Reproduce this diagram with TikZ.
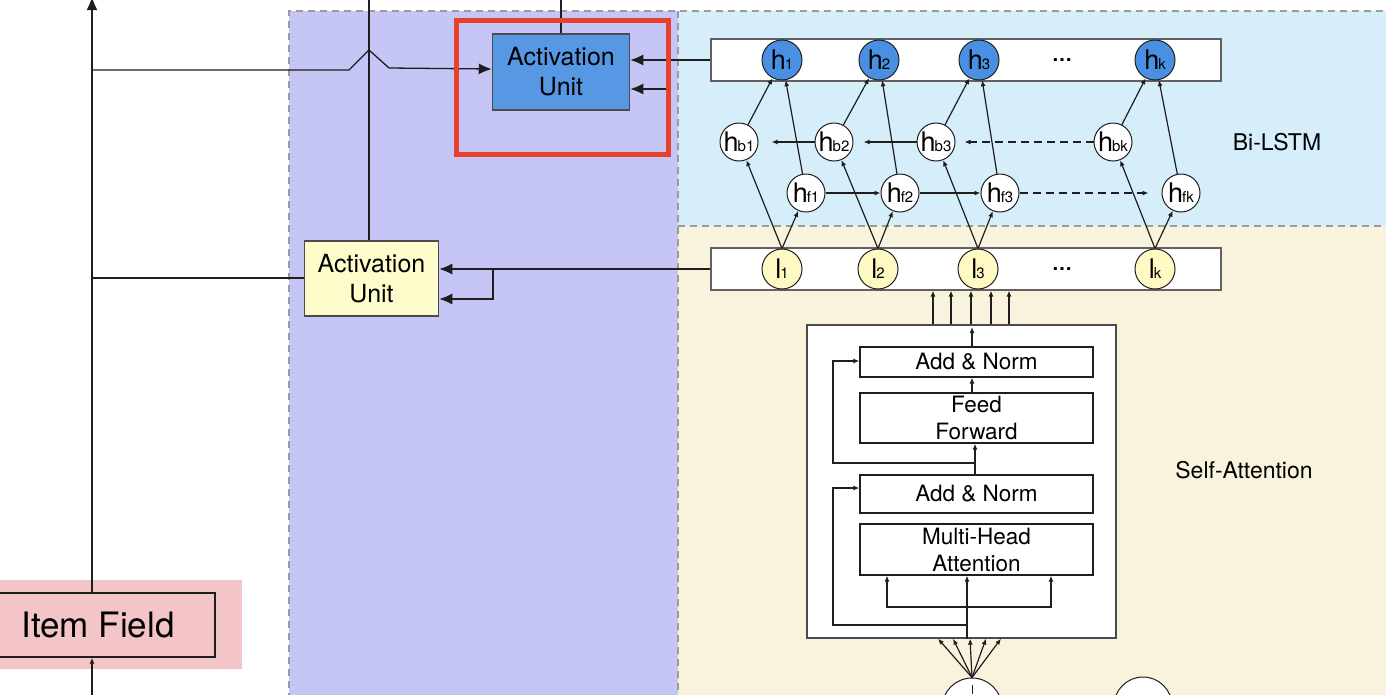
\documentclass[tikz,border=0pt]{standalone}
\usepackage{fontspec}
\setmainfont{TeX Gyre Heros}
\usetikzlibrary{arrows.meta,calc}
\definecolor{purplebg}{RGB}{197,197,246}
\definecolor{bluebg}{RGB}{214,237,250}
\definecolor{beigebg}{RGB}{249,243,221}
\definecolor{pinkbg}{RGB}{244,197,199}
\definecolor{hblue}{RGB}{74,144,226}
\definecolor{aublue}{RGB}{86,152,228}
\definecolor{auyellow}{RGB}{255,252,204}
\definecolor{lyellow}{RGB}{255,249,196}
\definecolor{redbox}{RGB}{232,64,42}
\definecolor{dashgray}{RGB}{155,155,155}
\definecolor{ink}{RGB}{30,30,30}
\newcommand\clab[2]{{\fontsize{27}{27}\selectfont #1}\kern-1pt{\fontsize{15}{15}\selectfont #2}}
\tikzset{
  conn/.style={draw=ink, line width=1.3pt},
  bigarrow/.style={conn, -{Latex[length=13pt,width=11pt]}},
  smarrow/.style={conn, line width=1.2pt, -{Latex[length=6pt,width=5pt]}},
  dashline/.style={dash pattern=on 8pt off 5pt},
  region/.style={draw=dashgray, line width=1.4pt, dash pattern=on 7pt off 5pt},
  aubox/.style={draw=ink!80, line width=1.5pt, minimum width=135pt, minimum height=75pt,
     align=center, font=\fontsize{25}{30}\selectfont, inner sep=0pt},
  rowbox/.style={draw=ink!70, line width=1.3pt, fill=white, minimum width=510pt, minimum height=42pt, inner sep=0pt},
  hcirc/.style={circle, draw=ink, line width=1pt, fill=hblue, minimum size=40pt, inner sep=0pt},
  lcirc/.style={circle, draw=ink, line width=1pt, fill=lyellow, minimum size=40pt, inner sep=0pt},
  mcirc/.style={circle, draw=ink, line width=1pt, fill=white, minimum size=38pt, inner sep=0pt},
  sabox/.style={draw=ink, line width=1.3pt, fill=white, minimum width=233pt, inner sep=0pt,
     align=center, font=\fontsize{22.5}{27}\selectfont},
  sidelabel/.style={font=\fontsize{23}{26}\selectfont},
}
\begin{document}
\begin{tikzpicture}[x=1pt,y=-1pt]
\useasboundingbox (0,0) rectangle (1386,694);
\clip (0,0) rectangle (1386,694);
% backgrounds
\fill[purplebg] (289,11) rectangle (678,700);
\fill[bluebg] (678,11) rectangle (1390,226);
\fill[beigebg] (678,226) rectangle (1390,700);
\fill[pinkbg] (0,580) rectangle (242,669);
\draw[region] (289,700) -- (289,11) -- (1390,11);
\draw[region] (678,11) -- (678,700);
\draw[region] (678,226) -- (1390,226);

% Item field
\node[draw=ink, line width=1.3pt, minimum width=225pt, minimum height=64pt, inner sep=0pt,
      font=\fontsize{35}{40}\selectfont] (item) at (102.5,625) {\kern-9pt Item Field};
\coordinate (vl) at (92,0);
\coordinate (bot) at (92,700);
\draw[bigarrow] (item.north -| vl) -- (92,-3);
\draw[smarrow, line width=1.3pt] (bot) -- (item.south -| vl);

% activation units
\node[aubox, fill=aublue, minimum width=137pt, minimum height=76pt] (au2) at (561,72) {Activation\\Unit};
\node[aubox, fill=auyellow, minimum width=134pt, minimum height=75pt] (au1) at (371.5,278.5) {Activation\\Unit};

% rows
\node[rowbox] (hrow) at (966,60) {};
\node[rowbox] (lrow) at (966,269) {};

\node[hcirc] (h1) at (782,60) {\clab{h}{1}};
\node[hcirc] (h2) at (879,60) {\clab{h}{2}};
\node[hcirc] (h3) at (979,60) {\clab{h}{3}};
\node[hcirc] (hk) at (1155,60) {\clab{h}{k}};
\node[font=\fontsize{20}{20}\selectfont] (hdots) at (1062,60) {\textbf{\ldots}};

\node[lcirc] (l1) at (782,269) {\clab{l}{1}};
\node[lcirc] (l2) at (878,269) {\clab{l}{2}};
\node[lcirc] (l3) at (978,269) {\clab{l}{3}};
\node[lcirc] (lk) at (1155,269) {\clab{l}{k}};
\node[font=\fontsize{20}{20}\selectfont] (ldots) at (1062,269) {\textbf{\ldots}};

\node[mcirc] (hb1) at (739,142) {\clab{h}{b1}};
\node[mcirc] (hb2) at (834,142) {\clab{h}{b2}};
\node[mcirc] (hb3) at (936,142) {\clab{h}{b3}};
\node[mcirc] (hbk) at (1113,142) {\clab{h}{bk}};
\node[mcirc] (hf1) at (806,193) {\clab{h}{f1}};
\node[mcirc] (hf2) at (900,193) {\clab{h}{f2}};
\node[mcirc] (hf3) at (1000,193) {\clab{h}{f3}};
\node[mcirc] (hfk) at (1181,193) {\clab{h}{fk}};

% Bi-LSTM connections
\foreach \i in {1,2,3,k}{
  \draw[smarrow] (l\i.north) -- (hb\i);
  \draw[smarrow] (l\i.north) -- (hf\i);
  \draw[smarrow] (hb\i) -- (h\i);
  \draw[smarrow] (hf\i) -- (h\i);
}
\draw[smarrow, shorten >=13pt] (hb2) -- (hb1);
\draw[smarrow, shorten >=10pt] (hb3) -- (hb2);
\draw[smarrow, dashline, shorten >=9pt] (hbk) -- (hb3);
\draw[smarrow] (hf1) -- (hf2);
\draw[smarrow] (hf2) -- (hf3);
\draw[smarrow, dashline, shorten >=13pt] (hf3) -- (hfk);

% arrows into activation units
\draw[bigarrow] (hrow.west |- 0,60) -- (au2.east |- 0,60);
\coordinate (br2) at (667,60);
\draw[bigarrow] (br2) -- (667,89) -- (au2.east |- 0,89);
\draw[bigarrow] (lrow.west |- 0,269) -- (au1.east |- 0,269);
\coordinate (br1) at (493,269);
\draw[bigarrow] (br1) -- (493,299) -- (au1.east |- 0,299);

% left connections
\coordinate (hopA) at (349,70);
\coordinate (hopT) at (369,50);
\coordinate (hopB) at (389,68);
\draw[bigarrow] (92,70) -- (hopA) -- (hopT) -- (hopB) -- (au2.west |- 0,69);
\draw[conn] (92,278) -- (au1.west |- 0,278);
\draw[conn] (au1.north -| 369,0) -- (369,-2);
\draw[conn] (au2.north) -- (561,-2);

% red highlight
\draw[redbox, line width=5pt] (456.5,20.5) rectangle (668.5,154.5);

% Self-attention block
\node[draw=ink!80, line width=1.3pt, fill=white, minimum width=309pt, minimum height=313pt, inner sep=0pt] (sa) at (961.5,481.5) {};
\node[sabox, minimum height=30pt] (an2) at (976.5,362) {Add \& Norm};
\node[sabox, minimum height=50pt] (ff) at (976.5,418) {Feed\\Forward};
\node[sabox, minimum height=38pt] (an1) at (976.5,494) {Add \& Norm};
\node[sabox, minimum height=51pt] (mha) at (976.5,549.5) {Multi-Head\\Attention};

\draw[smarrow] (an1.north -| 975,0) -- (ff.south -| 975,0);
\draw[smarrow] (ff.north -| 972,0) -- (an2.south -| 972,0);
\draw[smarrow] (an2.north -| 972,0) -- (972,327);
\draw[smarrow] (975,463) -- (833,463) -- (833,361) -- (an2.west |- 0,361);
\draw[smarrow] (967,625) -- (833,625) -- (833,488) -- (an1.west |- 0,488);
\draw[smarrow] (sa.south -| 967,0) -- (mha.south -| 967,0);
\draw[smarrow] (967,607) -- (887,607) -- (mha.south -| 887,0);
\draw[smarrow] (967,607) -- (1051,607) -- (mha.south -| 1051,0);
\foreach \x in {933,951,971,991,1009}{
  \draw[smarrow] (sa.north -| \x,0) -- (lrow.south -| \x,0);
}

% bottom inputs
\node[circle, draw=ink, line width=1pt, fill=white, minimum size=60pt] (c1) at (972,708) {};
\node[circle, draw=ink, line width=1pt, fill=white, minimum size=58pt] (c2) at (1143,706) {};
\draw[conn, line width=1pt] (972,685) -- (972,694);
\foreach \x in {938,953,970,986,1001}{
  \draw[smarrow] (c1.north) -- (sa.south -| \x,0);
}

% side labels
\node[sidelabel] (bilstm) at (1277,142) {Bi-LSTM};
\node[sidelabel] (salabel) at (1244,470) {Self-Attention};
\end{tikzpicture}
\end{document}
